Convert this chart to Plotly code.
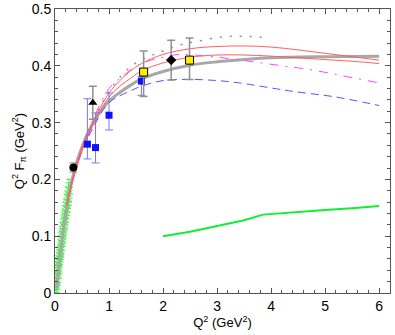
import plotly.graph_objects as go

# ---- data ----
gray_x = [0.03, 0.06, 0.1, 0.15, 0.2, 0.25, 0.3, 0.35, 0.4, 0.5, 0.6, 0.7, 0.8, 1.0, 1.2, 1.4, 1.6, 2.0, 2.5, 3.0, 3.5, 4.0, 5.0, 6.0]
gray_y = [0.008, 0.035, 0.068, 0.108, 0.14, 0.168, 0.192, 0.213, 0.23, 0.257, 0.28, 0.298, 0.314, 0.338, 0.353, 0.366, 0.377, 0.39, 0.401, 0.407, 0.411, 0.414, 0.416, 0.417]

red1_x = [0.22, 0.3, 0.4, 0.5, 0.6, 0.7, 0.8, 1.0, 1.2, 1.4, 1.6, 2.0, 2.5, 3.0, 3.5, 4.0, 4.5, 5.0, 5.5, 6.0]
red1_y = [0.158, 0.19, 0.225, 0.255, 0.28, 0.302, 0.32, 0.352, 0.374, 0.391, 0.404, 0.42, 0.43, 0.434, 0.435, 0.433, 0.428, 0.422, 0.416, 0.41]

red2_x = [0.22, 0.3, 0.4, 0.5, 0.6, 0.7, 0.8, 1.0, 1.2, 1.4, 1.6, 2.0, 2.5, 3.0, 3.5, 4.0, 4.5, 5.0, 5.5, 6.0]
red2_y = [0.155, 0.187, 0.22, 0.25, 0.275, 0.296, 0.314, 0.345, 0.364, 0.378, 0.391, 0.405, 0.415, 0.419, 0.419, 0.417, 0.414, 0.411, 0.408, 0.404]

mag_x = [0.3, 0.5, 0.7, 1.0, 1.2, 1.6, 2.0, 2.3, 2.7, 3.2, 3.6, 4.2, 4.6, 5.2, 5.5, 6.0]
mag_y = [0.19, 0.255, 0.305, 0.36, 0.378, 0.404, 0.415, 0.42, 0.418, 0.413, 0.408, 0.4, 0.395, 0.385, 0.379, 0.37]

dot_x = [0.5, 0.8, 1.0, 1.3, 1.5, 1.76, 2.0, 2.32, 2.63, 3.1, 3.5, 3.95]
dot_y = [0.256, 0.32, 0.355, 0.39, 0.405, 0.417, 0.426, 0.437, 0.443, 0.451, 0.452, 0.449]

blue_x = [0.3, 0.5, 0.7, 1.0, 1.4, 1.6, 2.0, 2.5, 3.0, 3.4, 4.0, 4.4, 5.2, 5.9, 6.0]
blue_y = [0.19, 0.25, 0.29, 0.335, 0.356, 0.364, 0.374, 0.376, 0.374, 0.37, 0.361, 0.355, 0.345, 0.332, 0.33]

green_line_x = [2.0, 2.5, 3.0, 3.5, 3.85, 4.5, 5.0, 5.5, 6.0]
green_line_y = [0.100, 0.108, 0.118, 0.128, 0.138, 0.143, 0.146, 0.149, 0.153]

lowq_x = [0.02, 0.03, 0.035, 0.04, 0.05, 0.055, 0.06, 0.07, 0.075, 0.08, 0.09, 0.1, 0.105, 0.11, 0.12,
          0.13, 0.135, 0.14, 0.15, 0.16, 0.17, 0.18, 0.19, 0.2, 0.21, 0.22, 0.23, 0.24, 0.25, 0.26]
lowq_y = [0.006, 0.012, 0.02, 0.025, 0.032, 0.04, 0.043, 0.05, 0.056, 0.06, 0.066, 0.07, 0.075, 0.08, 0.088,
          0.095, 0.1, 0.104, 0.11, 0.117, 0.124, 0.13, 0.137, 0.142, 0.148, 0.155, 0.16, 0.168, 0.174, 0.18]
lowq_e = [0.005, 0.006, 0.006, 0.007, 0.007, 0.008, 0.008, 0.009, 0.009, 0.01, 0.01, 0.011, 0.011, 0.012, 0.012,
          0.013, 0.013, 0.014, 0.014, 0.015, 0.015, 0.016, 0.016, 0.017, 0.017, 0.018, 0.018, 0.019, 0.02, 0.02]

bsq_x = [0.6, 0.75, 1.0, 1.6]
bsq_y = [0.262, 0.256, 0.313, 0.373]
bsq_ep = [0.08, 0.061, 0.039, 0.008]
bsq_em = [0.026, 0.027, 0.026, 0.025]

circ_x = [0.34]
circ_y = [0.221]
circ_e = [0.008]

tri_x = [0.7]
tri_y = [0.335]
tri_e = [0.029]

dia_x = [2.15]
dia_y = [0.41]
dia_ep = [0.035]
dia_em = [0.035]

ysq_x = [1.64, 2.49]
ysq_y = [0.389, 0.41]
ysq_ep = [0.037, 0.039]
ysq_em = [0.043, 0.034]

fig = go.Figure()

fig.add_trace(go.Scatter(x=lowq_x, y=lowq_y, mode="markers",
                         marker=dict(symbol="x-thin", size=8, color="#44ee44", line=dict(width=1, color="#44ee44")),
                         error_y=dict(type="data", array=lowq_e, color="#44ee44", thickness=1, width=3)))

fig.add_trace(go.Scatter(x=gray_x, y=gray_y, mode="lines", line=dict(color="#a8a8a8", width=3, shape="spline")))
fig.add_trace(go.Scatter(x=dot_x, y=dot_y, mode="lines", line=dict(color="#909090", width=1.5, dash="2px,8px", shape="spline")))
fig.add_trace(go.Scatter(x=mag_x, y=mag_y, mode="lines", line=dict(color="#ff44ff", width=1, dash="9px,7px,2px,7px", shape="spline")))
fig.add_trace(go.Scatter(x=blue_x, y=blue_y, mode="lines", line=dict(color="#5555ff", width=1, dash="8px,5px", shape="spline")))
fig.add_trace(go.Scatter(x=red1_x, y=red1_y, mode="lines", line=dict(color="#ff5f5f", width=1, shape="spline")))
fig.add_trace(go.Scatter(x=red2_x, y=red2_y, mode="lines", line=dict(color="#ff5f5f", width=1, shape="spline")))
fig.add_trace(go.Scatter(x=green_line_x, y=green_line_y, mode="lines", line=dict(color="#11ee33", width=2)))

fig.add_trace(go.Scatter(x=bsq_x, y=bsq_y, mode="markers",
                         marker=dict(symbol="square", size=7, color="#1010ff"),
                         error_y=dict(type="data", symmetric=False, array=bsq_ep, arrayminus=bsq_em,
                                      color="#7777ff", thickness=1, width=4)))
fig.add_trace(go.Scatter(x=circ_x, y=circ_y, mode="markers",
                         marker=dict(symbol="circle", size=8, color="black"),
                         error_y=dict(type="data", array=circ_e, color="#909090", thickness=1, width=4)))
fig.add_trace(go.Scatter(x=tri_x, y=tri_y, mode="markers",
                         marker=dict(symbol="triangle-up", size=8, color="black"),
                         error_y=dict(type="data", array=tri_e, color="#909090", thickness=1.5, width=4)))
fig.add_trace(go.Scatter(x=dia_x, y=dia_y, mode="markers",
                         marker=dict(symbol="diamond", size=8, color="black"),
                         error_y=dict(type="data", symmetric=False, array=dia_ep, arrayminus=dia_em,
                                      color="#909090", thickness=1.5, width=4)))
fig.add_trace(go.Scatter(x=ysq_x, y=ysq_y, mode="markers",
                         marker=dict(symbol="square", size=8, color="#ffee00", line=dict(color="black", width=1)),
                         error_y=dict(type="data", symmetric=False, array=ysq_ep, arrayminus=ysq_em,
                                      color="#909090", thickness=1.5, width=4)))

axis_common = dict(showgrid=False, zeroline=False, showline=True, linecolor="#555555", linewidth=1,
                   mirror="ticks", ticks="inside", ticklen=5, tickcolor="#555555", automargin=False,
                   tickfont=dict(family="Liberation Sans, Arial, sans-serif", size=14, color="black"))

fig.update_xaxes(range=[0, 6.2], tickvals=[0, 1, 2, 3, 4, 5, 6], ticktext=["0", "1", "2", "3", "4", "5", "6"],
                 minor=dict(dtick=0.2, ticks="inside", ticklen=3, tickcolor="#555555"),
                 title=dict(text="Q<sup>2</sup> (GeV<sup>2</sup>)", standoff=4,
                            font=dict(family="Liberation Sans, Arial, sans-serif", size=13, color="black")),
                 **axis_common)
fig.update_yaxes(range=[0, 0.5], tickvals=[0, 0.1, 0.2, 0.3, 0.4, 0.5],
                 ticktext=["0", "0.1", "0.2", "0.3", "0.4", "0.5"],
                 minor=dict(dtick=0.02, ticks="inside", ticklen=3, tickcolor="#555555"),
                 title=dict(text="Q<sup>2</sup> F<sub>π</sub> (GeV<sup>2</sup>)", standoff=4,
                            font=dict(family="Liberation Sans, Arial, sans-serif", size=13, color="black")),
                 **axis_common)

fig.update_layout(width=395, height=335, margin=dict(l=55, r=5, t=9, b=42),
                  paper_bgcolor="white", plot_bgcolor="white", showlegend=False)

fig.write_html("out.html", config={"displayModeBar": False},
               post_script="document.body.style.margin='0px';document.body.style.padding='0px';")
